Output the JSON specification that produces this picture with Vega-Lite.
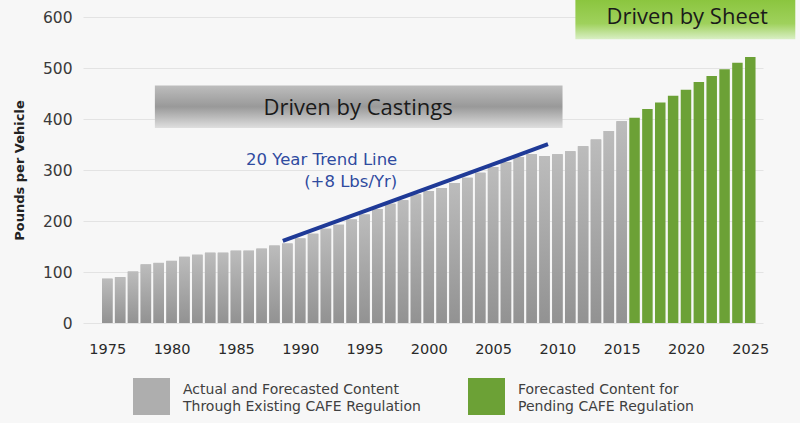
{
  "$schema": "https://vega.github.io/schema/vega-lite/v6.json",
  "width": 680,
  "height": 323,
  "autosize": "none",
  "padding": {"left": 83, "top": 0, "right": 37, "bottom": 100},
  "background": "#f7f7f7",
  "config": {
    "view": {"stroke": null},
    "font": "DejaVu Sans",
    "axisY": {"domain": false, "ticks": false, "gridColor": "#e3e3e3", "gridWidth": 1, "labelFontSize": 15.5, "labelColor": "#3a3a3a", "labelPadding": 11, "titleFontSize": 13, "titleFontWeight": "bold", "titleColor": "#222", "titleX": -64, "titleY": 170, "titleAngle": -90, "titleAlign": "center", "titleBaseline": "middle"},
    "axisX": {"domain": false, "ticks": false, "grid": false, "labelFontSize": 14.5, "labelColor": "#2a2a2a", "labelPadding": 19}
  },
  "datasets": {
    "bars": [
      {"year": 1975, "value": 87, "group": "Actual and Forecasted Content|Through Existing CAFE Regulation"},
      {"year": 1976, "value": 90, "group": "Actual and Forecasted Content|Through Existing CAFE Regulation"},
      {"year": 1977, "value": 101, "group": "Actual and Forecasted Content|Through Existing CAFE Regulation"},
      {"year": 1978, "value": 115, "group": "Actual and Forecasted Content|Through Existing CAFE Regulation"},
      {"year": 1979, "value": 118, "group": "Actual and Forecasted Content|Through Existing CAFE Regulation"},
      {"year": 1980, "value": 122, "group": "Actual and Forecasted Content|Through Existing CAFE Regulation"},
      {"year": 1981, "value": 130, "group": "Actual and Forecasted Content|Through Existing CAFE Regulation"},
      {"year": 1982, "value": 134, "group": "Actual and Forecasted Content|Through Existing CAFE Regulation"},
      {"year": 1983, "value": 138, "group": "Actual and Forecasted Content|Through Existing CAFE Regulation"},
      {"year": 1984, "value": 138, "group": "Actual and Forecasted Content|Through Existing CAFE Regulation"},
      {"year": 1985, "value": 142, "group": "Actual and Forecasted Content|Through Existing CAFE Regulation"},
      {"year": 1986, "value": 142, "group": "Actual and Forecasted Content|Through Existing CAFE Regulation"},
      {"year": 1987, "value": 146, "group": "Actual and Forecasted Content|Through Existing CAFE Regulation"},
      {"year": 1988, "value": 152, "group": "Actual and Forecasted Content|Through Existing CAFE Regulation"},
      {"year": 1989, "value": 156, "group": "Actual and Forecasted Content|Through Existing CAFE Regulation"},
      {"year": 1990, "value": 166, "group": "Actual and Forecasted Content|Through Existing CAFE Regulation"},
      {"year": 1991, "value": 175, "group": "Actual and Forecasted Content|Through Existing CAFE Regulation"},
      {"year": 1992, "value": 185, "group": "Actual and Forecasted Content|Through Existing CAFE Regulation"},
      {"year": 1993, "value": 193, "group": "Actual and Forecasted Content|Through Existing CAFE Regulation"},
      {"year": 1994, "value": 203, "group": "Actual and Forecasted Content|Through Existing CAFE Regulation"},
      {"year": 1995, "value": 213, "group": "Actual and Forecasted Content|Through Existing CAFE Regulation"},
      {"year": 1996, "value": 224, "group": "Actual and Forecasted Content|Through Existing CAFE Regulation"},
      {"year": 1997, "value": 234, "group": "Actual and Forecasted Content|Through Existing CAFE Regulation"},
      {"year": 1998, "value": 241, "group": "Actual and Forecasted Content|Through Existing CAFE Regulation"},
      {"year": 1999, "value": 252, "group": "Actual and Forecasted Content|Through Existing CAFE Regulation"},
      {"year": 2000, "value": 259, "group": "Actual and Forecasted Content|Through Existing CAFE Regulation"},
      {"year": 2001, "value": 265, "group": "Actual and Forecasted Content|Through Existing CAFE Regulation"},
      {"year": 2002, "value": 275, "group": "Actual and Forecasted Content|Through Existing CAFE Regulation"},
      {"year": 2003, "value": 285, "group": "Actual and Forecasted Content|Through Existing CAFE Regulation"},
      {"year": 2004, "value": 295, "group": "Actual and Forecasted Content|Through Existing CAFE Regulation"},
      {"year": 2005, "value": 306, "group": "Actual and Forecasted Content|Through Existing CAFE Regulation"},
      {"year": 2006, "value": 316, "group": "Actual and Forecasted Content|Through Existing CAFE Regulation"},
      {"year": 2007, "value": 326, "group": "Actual and Forecasted Content|Through Existing CAFE Regulation"},
      {"year": 2008, "value": 331, "group": "Actual and Forecasted Content|Through Existing CAFE Regulation"},
      {"year": 2009, "value": 328, "group": "Actual and Forecasted Content|Through Existing CAFE Regulation"},
      {"year": 2010, "value": 331, "group": "Actual and Forecasted Content|Through Existing CAFE Regulation"},
      {"year": 2011, "value": 337, "group": "Actual and Forecasted Content|Through Existing CAFE Regulation"},
      {"year": 2012, "value": 347, "group": "Actual and Forecasted Content|Through Existing CAFE Regulation"},
      {"year": 2013, "value": 360, "group": "Actual and Forecasted Content|Through Existing CAFE Regulation"},
      {"year": 2014, "value": 377, "group": "Actual and Forecasted Content|Through Existing CAFE Regulation"},
      {"year": 2015, "value": 396, "group": "Actual and Forecasted Content|Through Existing CAFE Regulation"},
      {"year": 2016, "value": 403, "group": "Forecasted Content for|Pending CAFE Regulation"},
      {"year": 2017, "value": 420, "group": "Forecasted Content for|Pending CAFE Regulation"},
      {"year": 2018, "value": 433, "group": "Forecasted Content for|Pending CAFE Regulation"},
      {"year": 2019, "value": 446, "group": "Forecasted Content for|Pending CAFE Regulation"},
      {"year": 2020, "value": 458, "group": "Forecasted Content for|Pending CAFE Regulation"},
      {"year": 2021, "value": 473, "group": "Forecasted Content for|Pending CAFE Regulation"},
      {"year": 2022, "value": 485, "group": "Forecasted Content for|Pending CAFE Regulation"},
      {"year": 2023, "value": 498, "group": "Forecasted Content for|Pending CAFE Regulation"},
      {"year": 2024, "value": 511, "group": "Forecasted Content for|Pending CAFE Regulation"},
      {"year": 2025, "value": 522, "group": "Forecasted Content for|Pending CAFE Regulation"}
    ],
    "boxes": [
      {"kind": "castings", "label": "Driven by Castings", "x1": 1978.7, "x2": 2010.4, "y1": 383, "y2": 466, "cx": 1994.5, "cy": 422},
      {"kind": "sheet", "label": "Driven by Sheet", "x1": 2011.4, "x2": 2028.5, "y1": 557, "y2": 634, "cx": 2020.1, "cy": 600}
    ],
    "trend": [
      {"year": 1988.65, "value": 161},
      {"year": 2009.27, "value": 351}
    ],
    "notes": [
      {"text": "20 Year Trend Line", "year": 1997.55, "value": 320},
      {"text": "(+8 Lbs/Yr)", "year": 1997.55, "value": 277}
    ]
  },
  "layer": [
    {
      "data": {"name": "boxes"},
      "transform": [{"filter": "datum.kind === 'castings'"}],
      "mark": {"type": "rect", "fill": {"gradient": "linear", "x1": 0, "y1": 0, "x2": 0, "y2": 1, "stops": [{"offset": 0, "color": "#bdbdbd"}, {"offset": 0.5, "color": "#999999"}, {"offset": 1, "color": "#dedede"}]}},
      "encoding": {
        "x": {"field": "x1", "type": "quantitative", "title": null, "scale": {"domain": [1973.5, 2025.6], "nice": false, "zero": false}},
        "x2": {"field": "x2"},
        "y": {"field": "y1", "type": "quantitative", "title": "Pounds per Vehicle", "scale": {"domain": [0, 634], "nice": false}},
        "y2": {"field": "y2"}
      }
    },
    {
      "data": {"name": "boxes"},
      "transform": [{"filter": "datum.kind === 'sheet'"}],
      "mark": {"type": "rect", "fill": {"gradient": "linear", "x1": 0, "y1": 0, "x2": 0, "y2": 1, "stops": [{"offset": 0, "color": "#8bc53f"}, {"offset": 0.6, "color": "#9fd15c"}, {"offset": 1, "color": "#d9efc4"}]}},
      "encoding": {
        "x": {"field": "x1", "type": "quantitative", "title": null, "scale": {"domain": [1973.5, 2025.6], "nice": false, "zero": false}},
        "x2": {"field": "x2"},
        "y": {"field": "y1", "type": "quantitative", "title": "Pounds per Vehicle", "scale": {"domain": [0, 634], "nice": false}},
        "y2": {"field": "y2"}
      }
    },
    {
      "data": {"name": "bars"},
      "mark": {"type": "bar", "size": 10.5},
      "encoding": {
        "x": {"field": "year", "type": "quantitative", "title": null, "scale": {"domain": [1973.5, 2025.6], "nice": false, "zero": false}, "axis": {"values": [1975, 1980, 1985, 1990, 1995, 2000, 2005, 2010, 2015, 2020, 2025], "format": "d"}},
        "y": {"field": "value", "type": "quantitative", "title": "Pounds per Vehicle", "scale": {"domain": [0, 634], "nice": false}, "axis": {"values": [0, 100, 200, 300, 400, 500, 600]}},
        "color": {
          "field": "group", "type": "nominal",
          "scale": {"domain": ["Actual and Forecasted Content|Through Existing CAFE Regulation", "Forecasted Content for|Pending CAFE Regulation"], "range": ["#aeaeae", "#6ca136"]},
          "legend": {"orient": "none", "legendX": 50, "legendY": 378, "direction": "horizontal", "title": null, "symbolType": "square", "symbolSize": 1369, "symbolStrokeWidth": 0, "symbolOpacity": 1, "labelFontSize": 14, "labelColor": "#404040", "labelOffset": 13, "labelLimit": 340, "columnPadding": 47, "labelExpr": "split(datum.label, '|')", "padding": 0,
            "encode": {"labels": {"update": {"lineHeight": {"value": 17}, "dy": {"value": -7}}}}}
        }
      }
    },
    {
      "data": {"name": "bars"},
      "transform": [{"filter": "datum.year <= 2015"}],
      "mark": {"type": "bar", "size": 10.5, "fill": {"gradient": "linear", "x1": 0, "y1": 0, "x2": 0, "y2": 1, "stops": [{"offset": 0, "color": "#bcbcbc"}, {"offset": 1, "color": "#929292"}]}},
      "encoding": {
        "x": {"field": "year", "type": "quantitative", "title": null, "scale": {"domain": [1973.5, 2025.6], "nice": false, "zero": false}},
        "y": {"field": "value", "type": "quantitative", "title": "Pounds per Vehicle", "scale": {"domain": [0, 634], "nice": false}}
      }
    },
    {
      "data": {"name": "trend"},
      "mark": {"type": "line", "color": "#1f3a97", "strokeWidth": 4},
      "encoding": {
        "x": {"field": "year", "type": "quantitative", "title": null, "scale": {"domain": [1973.5, 2025.6], "nice": false, "zero": false}},
        "y": {"field": "value", "type": "quantitative", "title": "Pounds per Vehicle", "scale": {"domain": [0, 634], "nice": false}}
      }
    },
    {
      "data": {"name": "notes"},
      "mark": {"type": "text", "align": "right", "baseline": "middle", "color": "#2f4b9f", "fontSize": 16.5},
      "encoding": {
        "x": {"field": "year", "type": "quantitative", "title": null, "scale": {"domain": [1973.5, 2025.6], "nice": false, "zero": false}},
        "y": {"field": "value", "type": "quantitative", "title": "Pounds per Vehicle", "scale": {"domain": [0, 634], "nice": false}},
        "text": {"field": "text"}
      }
    },
    {
      "data": {"name": "boxes"},
      "mark": {"type": "text", "align": "center", "baseline": "middle", "color": "#1a1a1a", "fontSize": 22, "font": "Open Sans"},
      "encoding": {
        "x": {"field": "cx", "type": "quantitative", "title": null, "scale": {"domain": [1973.5, 2025.6], "nice": false, "zero": false}},
        "y": {"field": "cy", "type": "quantitative", "title": "Pounds per Vehicle", "scale": {"domain": [0, 634], "nice": false}},
        "text": {"field": "label"}
      }
    }
  ]
}
